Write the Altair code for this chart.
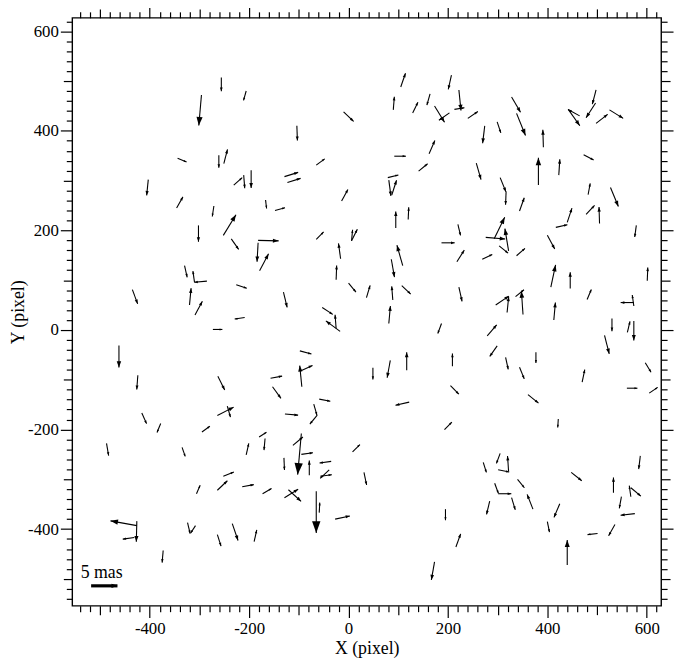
import altair as alt
import pandas as pd
import numpy as np

# star positions (pixel) and proper-motion residuals (mas)
x = [-256, -206, -296, -344, -261, -251, -231, -211, -196, -403, -346, -271, -252, -167, -148,
     105, 207, 90, 129, 164, 173, 203, 222, 213, 240, -10, -104, -65, 92, 162,
     141, -129, -123, 79, 81, 87, -14, 95, 120, 498, 497, 465, 442, 498, 525,
     328, 338, 274, 299, 392, 382, 473, 423, 257, 305, 317, 344, 482, 527, 478,
     505, 440, 293, 276, 322, 303, 269, 338, 417, 579, 400, 407, 446, 601, 480,
     296, 319, 336, 351, 413, 574, 574, 530, 561, 574, 279, 299, 515, 316, 377,
     344, 470, 597, 560, 605, 361, 422, -302, -236, -182, -182, -179, -330, -310, -285,
     -320, -309, -435, -226, -209, -273, -462, -424, -263, -264, -244, -416, -65, 6, 6,
     -16, -25, 109, 86, 0, 36, 89, 107, -131, 187, 220, 218, 222, 81, -53,
     -25, -17, 187, -98, -94, -98, -157, -153, 49, 84, 117, 209, 205, -59, 122,
     -128, -70, -63, -378, -295, -487, -335, -206, -180, -168, -252, -264, -214, -306, -173,
     -426, -426, -431, -324, -308, -264, -234, -190, -373, -95, -112, -95, -130, -79, -35,
     -39, -57, 8, 31, -129, -121, -65, -59, -27, 193, 195, 216, 173, 271, 305,
     322, 301, 294, 301, 340, 371, 328, 284, 448, 425, 400, 440, 587, 533, 568,
     568, 549, 576, 501, 536]
y = [507, 480, 472, 345, 351, 334, 291, 311, 321, 302, 245, 249, 190, 261, 240,
     488, 512, 442, 436, 474, 450, 436, 482, 443, 425, 438, 410, 331, 349, 354,
     319, 308, 296, 306, 301, 271, 259, 205, 222, 482, 456, 430, 443, 415, 442,
     468, 435, 410, 418, 367, 291, 352, 311, 335, 306, 278, 239, 272, 286, 232,
     214, 216, 183, 186, 159, 169, 142, 149, 206, 210, 190, 86, 83, 99, 61,
     50, 35, 67, 31, 20, 55, 48, 23, -5, 18, -12, -32, -11, -55, -45,
     -75, -105, -66, -117, -127, -130, -179, 210, 183, 180, 175, 119, 129, 96, 98,
     50, 30, 81, 91, 25, 1, -31, -91, -93, -172, -153, -167, 182, 179, 179,
     143, 101, 129, 142, 94, 65, 60, 89, 76, 175, 212, 137, 86, 13, 45,
     3, -3, 13, -42, -114, -83, -97, -114, -76, -61, -81, -73, -112, -139, -145,
     -169, -149, -171, -188, -205, -228, -236, -251, -215, -218, -294, -322, -315, -329, -329,
     -393, -384, -417, -387, -393, -411, -389, -425, -443, -208, -232, -250, -257, -292, -264,
     -281, -294, -245, -286, -337, -321, -324, -367, -380, -200, -360, -436, -466, -266, -248,
     -284, -281, -308, -329, -300, -360, -337, -344, -286, -349, -385, -472, -253, -327, -335,
     -317, -335, -369, -409, -391]
u = [0, -0.5, -0.5, 1.7, 0, 0.7, 1.6, 0.2, 0, -0.3, 1.2, -0.3, 2.4, 0.2, 1.9,
     0.9, -0.6, 0.2, 1.0, -0.6, 1.9, -2.0, 0.4, 1.9, 1.9, 1.9, 0.1, 1.6, 2.2, 1.1,
     1.7, 2.6, 2.5, 2.0, 0.4, 0.9, 1.2, 0, 0.1, -0.7, -1.8, -2.2, 2.2, 2.2, 2.6,
     1.7, 1.7, -0.4, 0.7, -0.1, 0, 1.9, 0.2, 0.9, 1.1, -0.1, 0.9, 0.4, 1.5, 1.6,
     -0.1, 0.9, 2.0, 3.7, -0.7, 1.7, 1.9, 1.6, 2.2, -0.3, 1.4, 0.9, 0, 0.1, 0.8,
     2.5, 0.3, 1.6, -0.3, 0.3, -2.5, -0.3, 0, 0.5, 0, 1.8, -1.4, 0.9, 0.5, 0,
     0.9, 0.5, 1.1, 2.0, 1.6, 2.0, -0.1, 0, 1.4, 3.9, -0.2, 1.7, 0.5, -0.3, -2.4,
     0.3, 1.4, 1.0, 2.0, -1.9, 1.8, 0, -0.2, 1.3, 3.1, 0.6, 0.9, 1.4, 1.1, 0.2,
     -0.4, 0.1, -1.1, 0.6, 1.4, 0.7, -0.2, 1.7, 0.7, 2.5, 0.5, 1.4, 0.6, 0.3, 2.0,
     -0.2, -2.7, -0.7, 2.2, -0.4, 2.4, 2.2, 1.6, 0, -0.6, 0, 0, 1.6, 2.1, -2.6,
     2.5, 0.6, -1.4, -0.7, 1.5, 0.4, 0.6, 0.5, 1.4, -0.2, 2.0, 1.9, 2.2, 0.7, 1.7,
     -5.0, -0.1, -2.2, 0.5, -0.9, 0.7, 1.1, 0.5, -0.2, -0.7, 1.9, 2.2, 0.1, 0, -2.2,
     -1.7, 2.2, 1.4, 0.5, 2.6, 2.4, 0, 0.1, 2.8, 1.4, 0, 0.9, -0.6, 0.6, -0.7,
     -0.2, 2.1, 0.7, 2.5, 1.3, -1.1, 0.7, -0.6, 2.0, -1.1, 0.4, 0, -0.3, 0, -0.3,
     1.9, -0.4, -2.7, -1.9, -1.2]
v = [-2.6, -1.8, -5.8, -0.7, -2.4, 2.7, 1.4, -2.5, -3.4, -3.0, 2.1, -2.0, 3.9, -1.6, 0.5,
     2.6, -2.7, 2.5, 2.0, -2.1, -3.1, -1.4, -3.9, 0.3, 1.3, -1.8, -2.8, 1.2, 0, 2.5,
     1.4, 0.8, 0.8, 0.5, -3.0, 2.8, 2.2, 3.1, 2.3, -2.7, -2.8, 1.2, -3.1, 1.7, -1.6,
     -2.9, -4.2, -3.3, -2.1, 3.3, 5.2, -1.0, 3.0, -3.1, -2.7, -2.5, 2.5, 2.1, -3.6, 1.7,
     3.1, 2.7, 4.1, -0.3, 4.2, -1.4, 0.9, 1.4, 0.5, -2.2, -2.6, 4.2, 3.1, 2.5, 1.9,
     1.7, 3.0, 1.3, 4.4, 3.3, 0, 2.1, -2.4, 2.1, -3.7, 2.1, -2.0, -3.5, -2.3, -2.0,
     -2.2, 2.4, -1.8, 0, 1.1, -1.6, -1.6, -3.1, -2.0, -0.1, -3.6, 3.2, -2.2, 2.1, -0.2,
     3.2, 2.6, -2.7, -0.7, -0.3, 0, -4.2, -2.7, -2.6, 1.6, -2.1, -2.0, 1.4, 2.2, 2.1,
     2.9, 2.7, 3.9, -3.4, -1.7, 2.3, 2.6, -1.6, -2.9, 0, -2.1, 2.2, -2.7, 3.3, -1.3,
     2.6, 2.0, -1.9, -0.6, 4.0, 1.1, 0.4, -2.2, -2.2, -3.3, 3.4, 2.4, -1.6, -0.4, -0.6,
     -0.2, -2.1, -1.7, -1.7, 1.1, -2.3, -1.7, 2.2, 0.9, -2.2, 0.8, 1.8, 0.4, 1.6, 1.0,
     0.9, -3.9, -0.3, -2.1, -1.4, -2.2, -3.2, 2.2, -2.3, -7.8, 1.6, 0.3, -2.3, 2.8, -0.3,
     -1.6, 0.3, 1.4, -2.4, 1.6, -2.2, -7.9, 1.9, 0.6, 1.4, -2.1, 2.5, -3.4, -1.9, -1.9,
     2.9, -0.4, -1.9, 0, -1.6, 2.8, -2.3, -2.5, -1.6, -2.6, -2.0, 4.7, -2.5, 2.9, 2.1,
     -1.6, -2.2, -0.3, -0.2, -2.1]

legend_x = [-518]
legend_y = [-514]
legend_mas = [5]
legend_text = ["5 mas"]

x_ticks = list(range(-540, 621, 20))
y_ticks = list(range(-540, 621, 20))

K = 10.6      # data units per mas
PXU = 0.503   # screen pixels per data unit
HEAD = "M0,0L0.36,1L-0.36,1Z"
FONT = "Liberation Serif, Times New Roman, DejaVu Serif, serif"


def arrows(xs_, ys_, us_, vs_):
    d = pd.DataFrame({"x": xs_, "y": ys_, "u": us_, "v": vs_}, dtype=float)
    d["xe"] = d["x"] + d["u"] * K
    d["ye"] = d["y"] + d["v"] * K
    L = np.hypot(d["u"], d["v"]) * K * PXU
    h = np.maximum(0.28 * L, 2.8)
    d["sz"] = 4 * h ** 2
    d["ang"] = (np.degrees(np.arctan2(d["u"], d["v"])) + 360) % 360
    return d


df = arrows(x, y, u, v)
lg = arrows(legend_x, legend_y, legend_mas, [0])
lg["sz"] = 4 * 6.0 ** 2
lt = pd.DataFrame({"x": [legend_x[0] - 21], "y": [legend_y[0] + 16], "t": legend_text})

xs = alt.Scale(domain=[-556, 629], nice=False, zero=False)
ys = alt.Scale(domain=[-554, 627], nice=False, zero=False)

tick_size = {"condition": [{"test": "datum.value % 200 === 0", "value": 12},
                           {"test": "datum.value % 100 === 0", "value": 9}],
             "value": 6}
lab = "datum.value % 200 === 0 ? '' + datum.value : ''"

ax_bottom = alt.Axis(orient="bottom", values=x_ticks, tickSize=tick_size, labelExpr=lab,
                     labelOverlap=False, labelFlush=False, labelPadding=3, titlePadding=3)
ax_left = alt.Axis(orient="left", values=y_ticks, tickSize=tick_size, labelExpr=lab,
                   labelOverlap=False, labelFlush=False, labelPadding=2, titlePadding=0)
ax_top = alt.Axis(orient="top", values=x_ticks, tickSize=tick_size, labels=False, title=None)
ax_right = alt.Axis(orient="right", values=y_ticks, tickSize=tick_size, labels=False, title=None)

shafts = alt.Chart(df).mark_rule(color="black", strokeWidth=1.1).encode(
    x=alt.X("x:Q", scale=xs, axis=ax_bottom, title="X (pixel)"),
    y=alt.Y("y:Q", scale=ys, axis=ax_left, title="Y (pixel)"),
    x2="xe:Q", y2="ye:Q")

heads = alt.Chart(df).mark_point(shape=HEAD, filled=True, color="black", opacity=1,
                                 strokeWidth=0).encode(
    x=alt.X("xe:Q", scale=xs, axis=ax_top),
    y=alt.Y("ye:Q", scale=ys, axis=ax_right),
    size=alt.Size("sz:Q", scale=None),
    angle=alt.Angle("ang:Q", scale=None))

leg_shaft = alt.Chart(lg).mark_rule(color="black", strokeWidth=3.2).encode(
    x=alt.X("x:Q", scale=xs, axis=None), y=alt.Y("y:Q", scale=ys, axis=None),
    x2="xe:Q", y2="ye:Q")
leg_head = alt.Chart(lg).mark_point(shape=HEAD, filled=True, color="black", opacity=1,
                                    strokeWidth=0).encode(
    x=alt.X("xe:Q", scale=xs, axis=None), y=alt.Y("ye:Q", scale=ys, axis=None),
    size=alt.Size("sz:Q", scale=None), angle=alt.Angle("ang:Q", scale=None))
leg_text = alt.Chart(lt).mark_text(align="left", baseline="alphabetic", font=FONT,
                                   fontSize=18, color="black").encode(
    x=alt.X("x:Q", scale=xs, axis=None), y=alt.Y("y:Q", scale=ys, axis=None), text="t:N")

chart = alt.layer(shafts, heads, leg_shaft, leg_head, leg_text).properties(
    width=596, height=595,
    autosize=alt.AutoSizeParams(type="none"),
    padding={"left": 65, "top": 6, "right": 14, "bottom": 52},
).configure_view(stroke="black", strokeWidth=1.4).configure_axis(
    domain=False, grid=False, tickColor="black", tickWidth=1.2,
    labelFont=FONT, labelFontSize=17, labelColor="black",
    titleFont=FONT, titleFontSize=18, titleFontWeight="normal", titleColor="black")

chart.save("out.html", embed_options={"renderer": "svg", "actions": False})
